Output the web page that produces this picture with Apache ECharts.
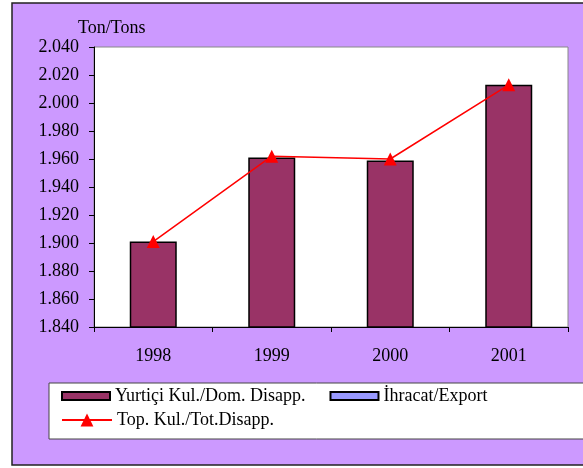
<!DOCTYPE html>
<html>
<head>
<meta charset="utf-8">
<script src="https://cdn.jsdelivr.net/npm/echarts@6/dist/echarts.min.js"></script>
<style>
  html, body { margin: 0; padding: 0; background: #fff; }
  #chart { width: 583px; height: 468px; }
</style>
</head>
<body>
<div id="chart"></div>
<script>
const years = ['1998', '1999', '2000', '2001']
const domDisapp = [1.901, 1.961, 1.959, 2.013]
const exportVals = ['-', '-', '-', '-']
const totDisapp = [1.901, 1.962, 1.960, 2.013]
const yTicks = { min: 1.84, max: 2.04, step: 0.02 }

const serif = 'Liberation Serif'
const fs = 18
const chart = echarts.init(document.getElementById('chart'))

const option = {
  animation: false,
  textStyle: { fontFamily: serif },
  graphic: [
    {
      type: 'rect',
      z: -10,
      shape: { x: 12, y: 3, width: 620, height: 462 },
      style: { fill: '#CC99FF', stroke: '#222', lineWidth: 1.5 }
    },
    {
      type: 'rect',
      z: -5,
      shape: { x: 49, y: 383, width: 600, height: 56 },
      style: { fill: '#fff', stroke: '#444', lineWidth: 1 }
    }
  ],
  title: {
    text: 'Ton/Tons',
    left: 78,
    top: 19,
    padding: 0,
    textStyle: { fontFamily: serif, fontSize: fs, fontWeight: 'normal', color: '#000' }
  },
  grid: {
    left: 94,
    top: 47,
    right: 15,
    bottom: 141,
    show: true,
    backgroundColor: '#fff',
    borderColor: '#888',
    borderWidth: 1
  },
  legend: [
    {
      data: ['Yurtiçi Kul./Dom. Disapp.', 'İhracat/Export'],
      icon: 'rect',
      left: 61,
      top: 387,
      padding: 0,
      itemWidth: 48,
      itemHeight: 8,
      itemGap: 24,
      textStyle: { fontFamily: serif, fontSize: fs, color: '#000' }
    },
    {
      data: ['Top. Kul./Tot.Disapp.'],
      left: 61,
      top: 411,
      padding: 0,
      itemWidth: 50,
      itemHeight: 16,
      textStyle: { fontFamily: serif, fontSize: fs, color: '#000' }
    }
  ],
  xAxis: {
    type: 'category',
    data: years,
    boundaryGap: true,
    axisLine: { lineStyle: { color: '#000', width: 1 } },
    axisTick: { show: true, length: 5, lineStyle: { color: '#000' } },
    axisLabel: { fontFamily: serif, fontSize: fs, color: '#000', margin: 20 },
    splitLine: { show: false }
  },
  yAxis: {
    type: 'value',
    min: yTicks.min,
    max: yTicks.max,
    interval: yTicks.step,
    axisLine: { show: true, lineStyle: { color: '#000', width: 1 } },
    axisTick: { show: true, length: 5, lineStyle: { color: '#000' } },
    axisLabel: {
      fontFamily: serif,
      fontSize: fs,
      color: '#000',
      margin: 15,
      formatter: (v) => v.toFixed(3)
    },
    splitLine: { show: false }
  },
  series: [
    {
      name: 'Yurtiçi Kul./Dom. Disapp.',
      type: 'bar',
      data: domDisapp,
      barWidth: 47,
      barGap: '-100%',
      itemStyle: { color: '#993366', borderColor: '#000', borderWidth: 1.5 }
    },
    {
      name: 'İhracat/Export',
      type: 'bar',
      data: exportVals,
      barWidth: 47,
      itemStyle: { color: '#9999FF', borderColor: '#000', borderWidth: 1.5 }
    },
    {
      name: 'Top. Kul./Tot.Disapp.',
      type: 'line',
      data: totDisapp,
      symbol: 'triangle',
      symbolSize: 13,
      lineStyle: { color: '#FF0000', width: 1.5 },
      itemStyle: { color: '#FF0000' },
      z: 5
    }
  ]
}

chart.setOption(option)
</script>
</body>
</html>
